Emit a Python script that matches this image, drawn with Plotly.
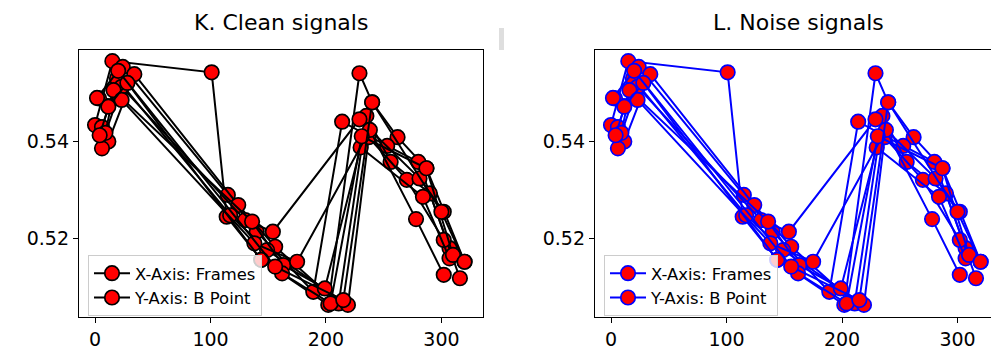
import plotly.graph_objects as go

# Frames (x) and B point (y) for each recorded sequence
frames = [
    [0, 15, 101, 114, 144, 202, 229, 240, 262, 287, 320],
    [6, 24, 115, 140, 189, 214, 253, 280, 307],
    [11.5, 34, 124, 156, 211, 235, 256, 290, 316],
    [6, 19, 117, 149, 219, 237, 270, 302],
    [9, 23, 130, 154, 229, 281, 302],
    [4, 16, 136, 163, 199, 230, 284, 307],
    [3.5, 23, 138, 175, 238, 278, 302],
    [11.5, 28, 144, 162, 204, 231, 287, 310],
    [1.7, 20, 156, 215, 240, 300, 320],
]
b_point = [
    [0.5433, 0.5565, 0.5542, 0.5244, 0.5155, 0.5062, 0.5540, 0.5480, 0.5408, 0.5344, 0.5151],
    [0.5429, 0.5553, 0.5289, 0.5213, 0.5089, 0.5440, 0.5390, 0.5357, 0.5179],
    [0.5399, 0.5538, 0.5268, 0.5182, 0.5065, 0.5452, 0.5357, 0.5292, 0.5117],
    [0.5385, 0.5529, 0.5247, 0.5175, 0.5062, 0.5408, 0.5320, 0.5196],
    [0.5417, 0.5512, 0.5237, 0.5213, 0.5445, 0.5323, 0.5254],
    [0.5412, 0.5505, 0.5234, 0.5144, 0.5096, 0.5387, 0.5285, 0.5158],
    [0.5488, 0.5485, 0.5189, 0.5151, 0.5423, 0.5239, 0.5124],
    [0.5471, 0.5520, 0.5155, 0.5127, 0.5065, 0.5410, 0.5344, 0.5165],
    [0.5489, 0.5545, 0.5141, 0.5072, 0.5480, 0.5254, 0.5151],
]
legend_names = ["X-Axis: Frames", "Y-Axis: B Point"]
titles = ["K. Clean signals", "L. Noise signals"]
line_colors = ["black", "blue"]
x_ticks = [0, 100, 200, 300]
y_ticks = [0.52, 0.54]

FONT = "DejaVu Sans"
W, H = 991, 356

fig = go.Figure()

panels = [
    dict(xa="x", ya="y", legend="legend", xdom=[79 / W, 483 / W], xr=[-13.9, 336.0]),
    dict(xa="x2", ya="y2", legend="legend2", xdom=[595 / W, 1.0], xr=[-13.85, 329.0]),
]
ydom = [(H - 317) / H, (H - 49.5) / H]
yr = [0.5037, 0.5589]

for p, panel in enumerate(panels):
    col = line_colors[p]
    for i, (xs, ys) in enumerate(zip(frames, b_point)):
        show = i < 2
        fig.add_trace(go.Scatter(
            x=xs, y=ys, mode="lines+markers",
            xaxis=panel["xa"], yaxis=panel["ya"],
            line=dict(color=col, width=2),
            marker=dict(color="red", size=14.5, line=dict(color=col, width=1.7)),
            name=legend_names[i] if show else "",
            showlegend=show, legend=panel["legend"],
        ))

common_x = dict(
    tickvals=x_ticks, ticks="outside", ticklen=5, tickwidth=1.3, tickcolor="black",
    showline=True, linecolor="black", linewidth=1.3, showgrid=False, zeroline=False,
    tickfont=dict(family=FONT, size=19, color="black"),
)
common_y = dict(
    tickvals=y_ticks, ticktext=["0.52", "0.54"], ticks="outside", ticklen=5, tickwidth=1.3,
    tickcolor="black", showline=True, linecolor="black", linewidth=1.3, showgrid=False,
    zeroline=False, tickfont=dict(family=FONT, size=19, color="black"), range=yr, domain=ydom,
)

legend_common = dict(
    bgcolor="rgba(255,255,255,0.8)", bordercolor="#cccccc", borderwidth=1,
    font=dict(family=FONT, size=16.4, color="black"), xanchor="left", yanchor="top",
    itemwidth=36, tracegroupgap=0,
)

fig.update_layout(
    width=W, height=H, margin=dict(l=0, r=0, t=0, b=0),
    paper_bgcolor="white", plot_bgcolor="white",
    xaxis=dict(domain=panels[0]["xdom"], range=panels[0]["xr"], mirror=True, anchor="y", **common_x),
    yaxis=dict(anchor="x", mirror=True, **common_y),
    xaxis2=dict(domain=panels[1]["xdom"], range=panels[1]["xr"], mirror=True, anchor="y2", **common_x),
    yaxis2=dict(anchor="x2", mirror=False, **common_y),
    legend=dict(x=88 / W, y=(H - 255) / H, **legend_common),
    legend2=dict(x=604 / W, y=(H - 255) / H, **legend_common),
    showlegend=True,
    annotations=[
        dict(text=titles[0], x=(79 + 483) / 2 / W, y=(H - 22) / H, xref="paper", yref="paper",
             xanchor="center", yanchor="middle",
             showarrow=False, font=dict(family=FONT, size=22, color="black")),
        dict(text=titles[1], x=798 / W, y=(H - 22) / H, xref="paper", yref="paper",
             xanchor="center", yanchor="middle",
             showarrow=False, font=dict(family=FONT, size=22, color="black")),
    ],
    shapes=[
        dict(type="rect", xref="paper", yref="paper", x0=499 / W, x1=504 / W,
             y0=(H - 50) / H, y1=(H - 28) / H, fillcolor="rgba(200,200,200,0.6)", line_width=0),
    ],
)

fig.write_html("out.html")
